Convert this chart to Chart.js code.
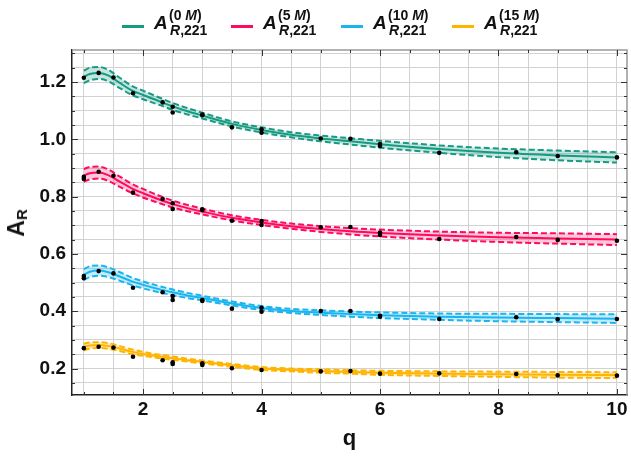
<!DOCTYPE html>
<html><head><meta charset="utf-8">
<script src="https://cdn.jsdelivr.net/npm/chart.js@4.4.0/dist/chart.umd.min.js"></script>
<style>
html,body{margin:0;padding:0;background:#fff;}
#wrap{position:relative;width:631px;height:459px;overflow:hidden;font-family:'Liberation Sans',Arial,sans-serif;color:#111;}
canvas{position:absolute;left:0;top:0;}
.item{position:absolute;top:0;height:45px;width:100px;}
.sw{position:absolute;left:0;top:25px;width:22px;height:2.5px;}
.t{position:absolute;line-height:0;white-space:nowrap;font-weight:bold;}
#ytitle{position:absolute;left:17px;top:223px;transform:translate(-50%,-50%) rotate(-90deg);font-size:23px;font-weight:bold;line-height:1;white-space:nowrap;}
#ytitle sub{font-size:15px;vertical-align:-0.2em;}
</style></head><body>
<div id="wrap"><canvas id="c" width="631" height="459"></canvas><div id="legend"></div><div id="ytitle">A<sub>R</sub></div></div>
<script>
// ---- data ----
const q = [1, 1.1, 1.25, 1.4, 1.6, 1.8, 2, 2.25, 2.5, 2.75, 3, 3.5, 4, 4.5, 5, 5.5, 6, 7, 8, 9, 10];

const center0 = [1.218, 1.228, 1.232, 1.224, 1.198, 1.172, 1.155, 1.135, 1.115, 1.098, 1.083, 1.054, 1.033, 1.016, 1.003, 0.993, 0.983, 0.966, 0.953, 0.944, 0.937];
const upper0  = [1.240, 1.250, 1.253, 1.244, 1.216, 1.188, 1.170, 1.148, 1.127, 1.109, 1.093, 1.063, 1.042, 1.025, 1.013, 1.004, 0.995, 0.979, 0.968, 0.961, 0.955];
const lower0  = [1.196, 1.206, 1.211, 1.204, 1.180, 1.156, 1.140, 1.122, 1.103, 1.087, 1.073, 1.045, 1.024, 1.007, 0.993, 0.982, 0.971, 0.953, 0.938, 0.927, 0.919];

const center5 = [0.874, 0.882, 0.884, 0.876, 0.853, 0.830, 0.812, 0.792, 0.774, 0.760, 0.748, 0.726, 0.710, 0.697, 0.687, 0.679, 0.673, 0.664, 0.658, 0.654, 0.650];
const upper5  = [0.896, 0.904, 0.905, 0.896, 0.871, 0.846, 0.827, 0.805, 0.786, 0.771, 0.758, 0.735, 0.719, 0.706, 0.697, 0.690, 0.685, 0.678, 0.674, 0.672, 0.669];
const lower5  = [0.852, 0.860, 0.863, 0.856, 0.835, 0.814, 0.797, 0.779, 0.762, 0.749, 0.738, 0.717, 0.701, 0.688, 0.677, 0.668, 0.661, 0.650, 0.642, 0.636, 0.631];

const center10 = [0.528, 0.538, 0.542, 0.537, 0.522, 0.505, 0.492, 0.478, 0.466, 0.455, 0.446, 0.427, 0.411, 0.401, 0.395, 0.390, 0.386, 0.381, 0.378, 0.376, 0.374];
const upper10  = [0.547, 0.557, 0.560, 0.554, 0.537, 0.518, 0.504, 0.489, 0.476, 0.464, 0.454, 0.434, 0.418, 0.408, 0.403, 0.399, 0.396, 0.392, 0.391, 0.390, 0.389];
const lower10  = [0.509, 0.519, 0.524, 0.520, 0.507, 0.492, 0.480, 0.467, 0.456, 0.446, 0.438, 0.420, 0.404, 0.394, 0.387, 0.381, 0.376, 0.370, 0.365, 0.362, 0.359];

const center15 = [0.275, 0.280, 0.282, 0.279, 0.270, 0.259, 0.251, 0.243, 0.236, 0.229, 0.223, 0.211, 0.200, 0.195, 0.191, 0.188, 0.185, 0.182, 0.180, 0.178, 0.177];
const upper15  = [0.286, 0.291, 0.292, 0.289, 0.279, 0.267, 0.258, 0.249, 0.242, 0.234, 0.228, 0.216, 0.205, 0.200, 0.197, 0.194, 0.192, 0.190, 0.189, 0.188, 0.187];
const lower15  = [0.264, 0.269, 0.272, 0.269, 0.261, 0.251, 0.244, 0.237, 0.230, 0.224, 0.218, 0.206, 0.195, 0.190, 0.185, 0.182, 0.178, 0.174, 0.171, 0.168, 0.167];

const ptsQ0 = [1, 1.25, 1.5, 1.83, 2.33, 2.5, 2.5, 3, 3, 3.5, 4, 4, 5, 5.5, 6, 6, 7, 8.3, 9, 10];
const ptsA0 = [1.215, 1.232, 1.216, 1.161, 1.129, 1.114, 1.094, 1.087, 1.084, 1.042, 1.035, 1.023, 1.003, 1.002, 0.984, 0.977, 0.953, 0.955, 0.942, 0.937];
const ptsQ5 = [1, 1, 1.25, 1.5, 1.83, 2.33, 2.5, 2.5, 3, 3, 3.5, 4, 4, 5, 5.5, 6, 6, 7, 8.3, 9, 10];
const ptsA5 = [0.869, 0.862, 0.887, 0.873, 0.814, 0.792, 0.777, 0.757, 0.756, 0.753, 0.716, 0.715, 0.701, 0.693, 0.694, 0.675, 0.666, 0.652, 0.659, 0.649, 0.646];
const ptsQ10 = [1, 1, 1.25, 1.5, 1.83, 2.33, 2.5, 2.5, 3, 3, 3.5, 4, 4, 5, 5.5, 6, 6, 7, 8.3, 9, 10];
const ptsA10 = [0.523, 0.515, 0.540, 0.532, 0.482, 0.466, 0.453, 0.439, 0.439, 0.436, 0.409, 0.412, 0.398, 0.401, 0.401, 0.384, 0.381, 0.373, 0.379, 0.372, 0.373];
const ptsQ15 = [1, 1.25, 1.5, 1.83, 2.33, 2.5, 2.5, 3, 3, 3.5, 4, 5, 5.5, 6, 7, 8.3, 9, 10];
const ptsA15 = [0.271, 0.276, 0.273, 0.241, 0.229, 0.222, 0.216, 0.218, 0.212, 0.201, 0.195, 0.190, 0.191, 0.182, 0.183, 0.181, 0.176, 0.175];

const seriesSup = ['0', '5', '10', '15'];
const xTickLabels = ['2', '4', '6', '8', '10'];
const yTickLabels = ['0.2', '0.4', '0.6', '0.8', '1.0', '1.2'];

// ---- styles ----
const colors = ['#169b82', '#ff0a60', '#19b5f0', '#ffb400'];
const fills = ['rgba(22,155,130,0.25)', 'rgba(255,10,96,0.22)', 'rgba(25,181,240,0.25)', 'rgba(255,180,0,0.30)'];
const legendX = [122, 231, 341, 452];

const centers = [center0, center5, center10, center15];
const uppers = [upper0, upper5, upper10, upper15];
const lowers = [lower0, lower5, lower10, lower15];
const ptsQ = [ptsQ0, ptsQ5, ptsQ10, ptsQ15];
const ptsA = [ptsA0, ptsA5, ptsA10, ptsA15];

const xy = (xs, ys) => xs.map((x, i) => ({x: x, y: ys[i]}));

const datasets = [];
for (let i = 0; i < 4; i++) {
  const common = {showLine: true, pointRadius: 0, cubicInterpolationMode: 'monotone', borderColor: colors[i]};
  datasets.push(Object.assign({}, common, {data: xy(q, lowers[i]), borderDash: [6, 3], borderWidth: 2, fill: false, order: 2}));
  datasets.push(Object.assign({}, common, {data: xy(q, uppers[i]), borderDash: [6, 3], borderWidth: 2, fill: '-1', backgroundColor: fills[i], order: 2}));
  datasets.push(Object.assign({}, common, {data: xy(q, centers[i]), borderWidth: 2, fill: false, order: 1}));
  datasets.push({data: xy(ptsQ[i], ptsA[i]), showLine: false, pointRadius: 2.3, pointBackgroundColor: '#000', pointBorderWidth: 0, order: 0});
}

const xGrid = []; for (let k = 2; k <= 20; k++) xGrid.push(k / 2);
const yGrid = []; for (let k = 3; k <= 26; k++) yGrid.push(Math.round(k * 5) / 100);
const near = (a, b) => Math.abs(a - b) < 1e-6;
const isXLab = v => xTickLabels.some(l => near(Number(l), v));
const isYLab = v => yTickLabels.some(l => near(Number(l), v));

const frameTicks = {
  id: 'frameTicks',
  afterDraw(chart) {
    const {ctx, chartArea: a, scales: {x, y}} = chart;
    ctx.save();
    ctx.strokeStyle = '#999'; ctx.lineWidth = 1.5;
    ctx.beginPath(); ctx.moveTo(a.left, a.top); ctx.lineTo(a.right, a.top); ctx.lineTo(a.right, a.bottom); ctx.stroke();
    ctx.strokeStyle = '#333'; ctx.lineWidth = 1;
    ctx.beginPath();
    x.ticks.forEach(t => {
      const p = Math.round(x.getPixelForValue(t.value)) + 0.5;
      const L = isXLab(t.value) ? 6 : 3;
      ctx.moveTo(p, a.bottom); ctx.lineTo(p, a.bottom - L);
      ctx.moveTo(p, a.top); ctx.lineTo(p, a.top + L);
    });
    y.ticks.forEach(t => {
      const p = Math.round(y.getPixelForValue(t.value)) + 0.5;
      const L = isYLab(t.value) ? 6 : 3;
      ctx.moveTo(a.left, p); ctx.lineTo(a.left + L, p);
      ctx.moveTo(a.right, p); ctx.lineTo(a.right - L, p);
    });
    ctx.stroke();
    ctx.restore();
  }
};

Chart.defaults.font.family = "'Liberation Sans', Arial, sans-serif";
new Chart(document.getElementById('c'), {
  type: 'scatter',
  data: {datasets},
  options: {
    responsive: false, animation: false,
    layout: {padding: {top: 50, right: 1.5, left: 0, bottom: 0}},
    plugins: {legend: {display: false}, tooltip: {enabled: false}},
    scales: {
      x: {
        type: 'linear', min: 0.8, max: 10.17,
        afterBuildTicks: s => { s.ticks = xGrid.map(v => ({value: v})); },
        afterFit: s => { s.height = 64; s.paddingLeft = 0; s.paddingRight = 0; },
        ticks: {autoSkip: false, maxRotation: 0, padding: 3, color: '#111', font: {size: 19, weight: 'bold'},
          callback: v => { const l = xTickLabels.find(l => near(Number(l), v)); return l === undefined ? '' : l; }},
        grid: {color: '#d2d2d2', lineWidth: 1, drawTicks: false},
        border: {color: '#222', width: 1.5},
        title: {display: true, text: 'q', color: '#111', font: {size: 22, weight: 'bold'}, padding: {top: 2, bottom: 7}}
      },
      y: {
        type: 'linear', min: 0.1075, max: 1.312,
        afterBuildTicks: s => { s.ticks = yGrid.map(v => ({value: v})); },
        afterFit: s => { s.width = 72; s.paddingTop = 0; s.paddingBottom = 0; },
        ticks: {autoSkip: false, padding: 6, color: '#111', font: {size: 19, weight: 'bold'},
          callback: v => { const l = yTickLabels.find(l => near(Number(l), v)); return l === undefined ? '' : l; }},
        grid: {color: '#d2d2d2', lineWidth: 1, drawTicks: false},
        border: {color: '#222', width: 1.5}
      }
    }
  },
  plugins: [frameTicks]
});

// ---- legend (HTML, with super/subscripts) ----
const leg = document.getElementById('legend');
seriesSup.forEach((s, i) => {
  const it = document.createElement('div');
  it.className = 'item';
  it.style.left = legendX[i] + 'px';
  it.innerHTML =
    '<div class="sw" style="background:' + colors[i] + '"></div>' +
    '<span class="t" style="left:32px;top:23.4px;font-size:19px;font-style:italic">A</span>' +
    '<span class="t" style="left:47px;top:15.1px;font-size:14px">(' + s + ' <i>M</i>)</span>' +
    '<span class="t" style="left:48px;top:30.1px;font-size:14px"><i>R</i>,221</span>';
  leg.appendChild(it);
});
</script>
</body></html>
